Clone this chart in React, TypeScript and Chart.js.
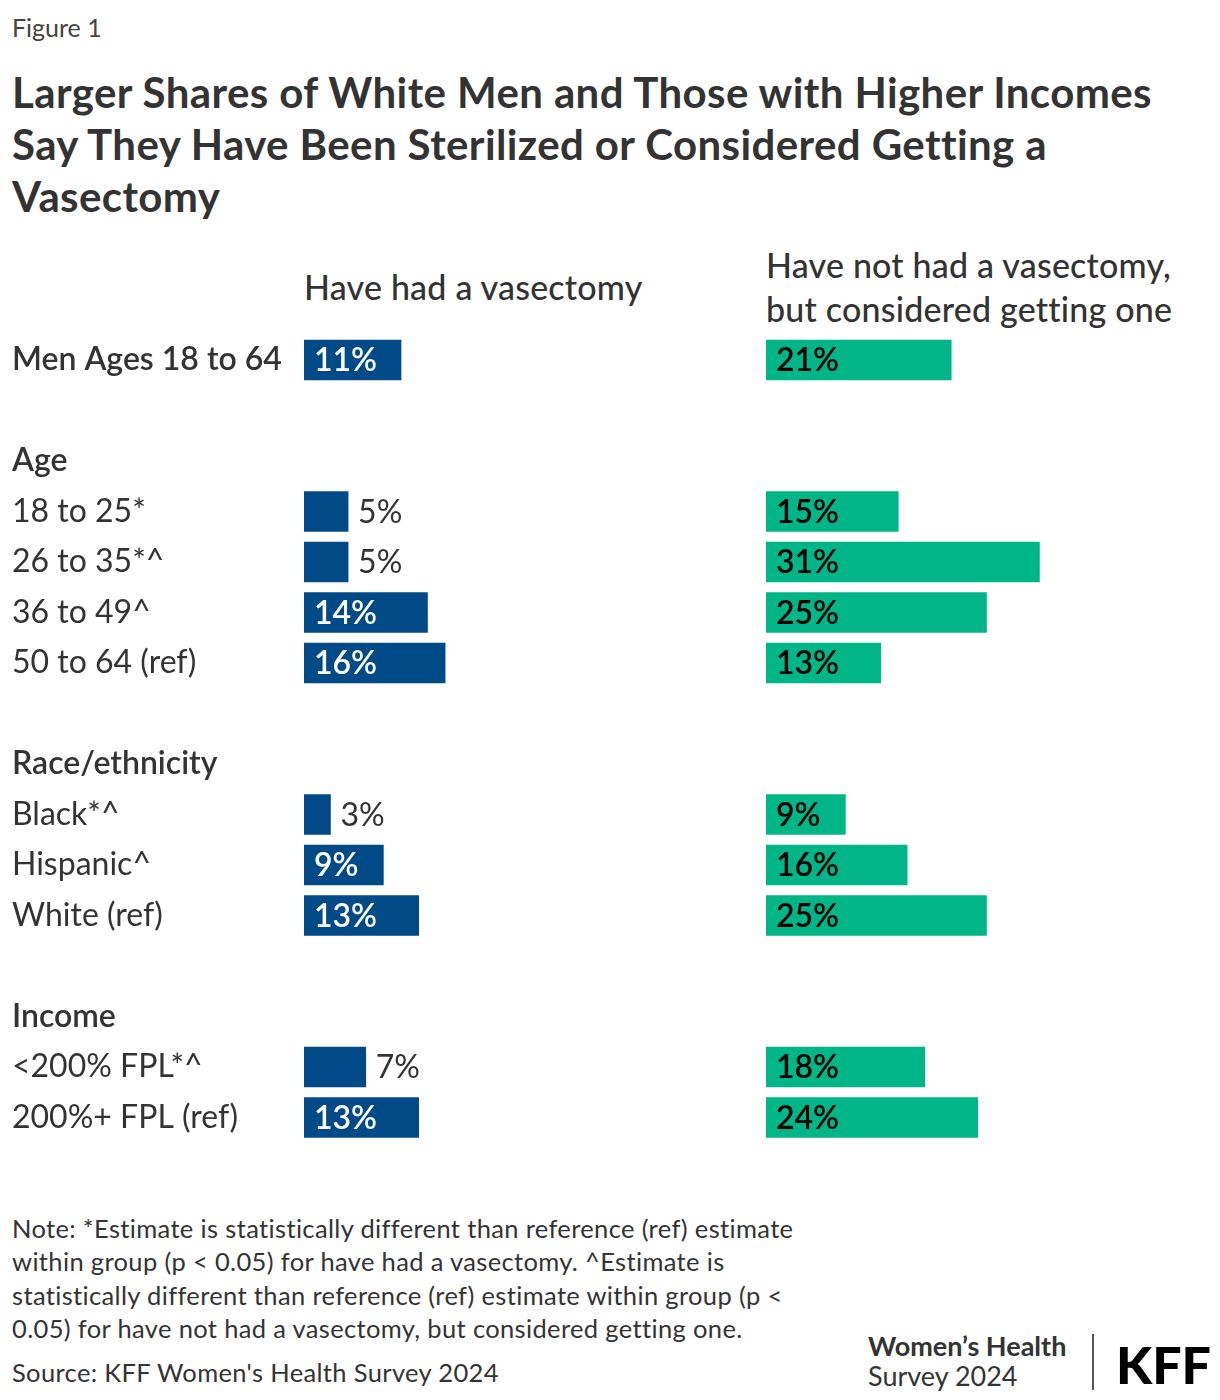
import React, { useEffect, useRef } from 'react';
import { Chart, registerables } from 'chart.js';

Chart.register(...registerables);

const categories = [
  'Men Ages 18 to 64',
  '',
  'Age',
  '18 to 25*',
  '26 to 35*^',
  '36 to 49^',
  '50 to 64 (ref)',
  '',
  'Race/ethnicity',
  'Black*^',
  'Hispanic^',
  'White (ref)',
  '',
  'Income',
  '<200% FPL*^',
  '200%+ FPL (ref)',
];
const headerRows = ['Men Ages 18 to 64', 'Age', 'Race/ethnicity', 'Income'];
const hadVasectomy = [11, null, null, 5, 5, 14, 16, null, null, 3, 9, 13, null, null, 7, 13];
const consideredVasectomy = [21, null, null, 15, 31, 25, 13, null, null, 9, 16, 25, null, null, 18, 24];
const seriesNames = ['Have had a vasectomy', 'Have not had a vasectomy, but considered getting one'];
const xMax = 50;

const FONT = 'Lato, "Noto Sans", sans-serif';
const BLUE = '#004B87';
const GREEN = '#00B588';
const TEXT = '#333333';

const labelPlugin = (insideColor: string, minInside: number) => ({
  id: 'barLabels',
  afterDatasetsDraw(chart: any) {
    const ctx = chart.ctx;
    const meta = chart.getDatasetMeta(0);
    const data = chart.data.datasets[0].data as (number | null)[];
    ctx.save();
    ctx.textBaseline = 'middle';
    ctx.textAlign = 'left';
    meta.data.forEach((bar: any, i: number) => {
      const v = data[i];
      if (v === null || v === undefined) return;
      const text = `${v}%`;
      if (v >= minInside) {
        ctx.font = `600 32px ${FONT}`;
        ctx.fillStyle = insideColor;
        ctx.fillText(text, bar.base + 10, bar.y + 1);
      } else {
        ctx.font = `400 32px ${FONT}`;
        ctx.fillStyle = TEXT;
        ctx.fillText(text, bar.x + 10, bar.y + 1);
      }
    });
    ctx.restore();
  },
});

function makeConfig(values: (number | null)[], name: string, color: string, showAxis: boolean, insideColor: string, minInside: number): any {
  return {
    type: 'bar',
    data: {
      labels: categories,
      datasets: [
        {
          label: name,
          data: values,
          backgroundColor: color,
          borderWidth: 0,
          barThickness: 40,
        },
      ],
    },
    options: {
      indexAxis: 'y',
      animation: false,
      responsive: false,
      devicePixelRatio: 1,
      layout: {
        padding: { left: showAxis ? 12 : 0, right: 0, top: 4.75, bottom: 7.25 },
      },
      plugins: {
        legend: { display: false },
        tooltip: { enabled: false },
        title: { display: false },
      },
      scales: {
        x: {
          type: 'linear',
          min: 0,
          max: xMax,
          display: false,
        },
        y: {
          type: 'category',
          display: showAxis,
          offset: true,
          grid: { display: false, drawTicks: false },
          border: { display: false },
          afterFit: (s: any) => {
            s.width = showAxis ? 292 : 0;
            s.paddingTop = 0;
            s.paddingBottom = 0;
          },
          ticks: {
            crossAlign: 'far',
            padding: 0,
            autoSkip: false,
            color: TEXT,
            font: (c: any) => {
              const lbl = categories[c.index];
              const isHeader = headerRows.includes(lbl);
              return { family: FONT, size: 32, weight: isHeader ? '600' : '400' };
            },
          },
        },
      },
    },
    plugins: [labelPlugin(insideColor, minInside)],
  };
}

function BarPanel(props: {
  values: (number | null)[];
  name: string;
  color: string;
  showAxis: boolean;
  insideColor: string;
  minInside: number;
  left: number;
  width: number;
}) {
  const ref = useRef<HTMLCanvasElement | null>(null);
  useEffect(() => {
    if (!ref.current) return;
    const chart = new Chart(
      ref.current,
      makeConfig(props.values, props.name, props.color, props.showAxis, props.insideColor, props.minInside)
    );
    return () => chart.destroy();
  }, []);
  return (
    <canvas
      ref={ref}
      width={props.width}
      height={820}
      style={{ position: 'absolute', left: props.left, top: 330, width: props.width, height: 820 }}
    />
  );
}

export default function App() {
  const base: React.CSSProperties = { position: 'absolute', fontFamily: FONT, color: TEXT, whiteSpace: 'nowrap', margin: 0 };
  return (
    <div style={{ position: 'absolute', left: 0, top: 0, width: 1220, height: 1400, overflow: 'hidden', background: '#fff' }}>
      <div style={{ ...base, left: 12, top: 12, fontSize: 25, lineHeight: '30px', color: '#444' }}>Figure 1</div>
      <div style={{ ...base, left: 12, top: 66, fontSize: 42, lineHeight: '52px', fontWeight: 700, letterSpacing: '0.4px' }}>
        <div>Larger Shares of White Men and Those with Higher Incomes</div>
        <div>Say They Have Been Sterilized or Considered Getting a</div>
        <div>Vasectomy</div>
      </div>
      <div style={{ ...base, left: 304, top: 265, fontSize: 34, lineHeight: '44px', fontWeight: 500, letterSpacing: '0.2px' }}>
        {seriesNames[0]}
      </div>
      <div style={{ ...base, left: 766, top: 243, fontSize: 34, lineHeight: '44px', fontWeight: 500, letterSpacing: '0.2px' }}>
        <div>Have not had a vasectomy,</div>
        <div>but considered getting one</div>
      </div>

      <BarPanel values={hadVasectomy} name={seriesNames[0]} color={BLUE} showAxis={true} insideColor="#ffffff" minInside={8} left={0} width={745} />
      <BarPanel values={consideredVasectomy} name={seriesNames[1]} color={GREEN} showAxis={false} insideColor="#000000" minInside={0} left={766} width={441} />

      <div style={{ ...base, left: 12, top: 1212, fontSize: 25.5, lineHeight: '33.3px', letterSpacing: '0.35px' }}>
        <div>Note: *Estimate is statistically different than reference (ref) estimate</div>
        <div>within group (p &lt; 0.05) for have had a vasectomy. ^Estimate is</div>
        <div>statistically different than reference (ref) estimate within group (p &lt;</div>
        <div>0.05) for have not had a vasectomy, but considered getting one.</div>
      </div>
      <div style={{ ...base, left: 12, top: 1356, fontSize: 25.5, lineHeight: '33px', letterSpacing: '0.35px' }}>Source: KFF Women's Health Survey 2024</div>

      <div style={{ ...base, left: 868, top: 1331, fontSize: 27, lineHeight: '30px' }}>
        <div style={{ fontWeight: 700 }}>Women’s Health</div>
        <div style={{ fontWeight: 400 }}>Survey 2024</div>
      </div>
      <div style={{ position: 'absolute', left: 1092, top: 1334, width: 1.5, height: 56, background: '#555' }} />
      <div style={{ ...base, left: 1116, top: 1336, fontSize: 52, lineHeight: '56px', fontWeight: 900, color: '#000' }}>KFF</div>
    </div>
  );
}
